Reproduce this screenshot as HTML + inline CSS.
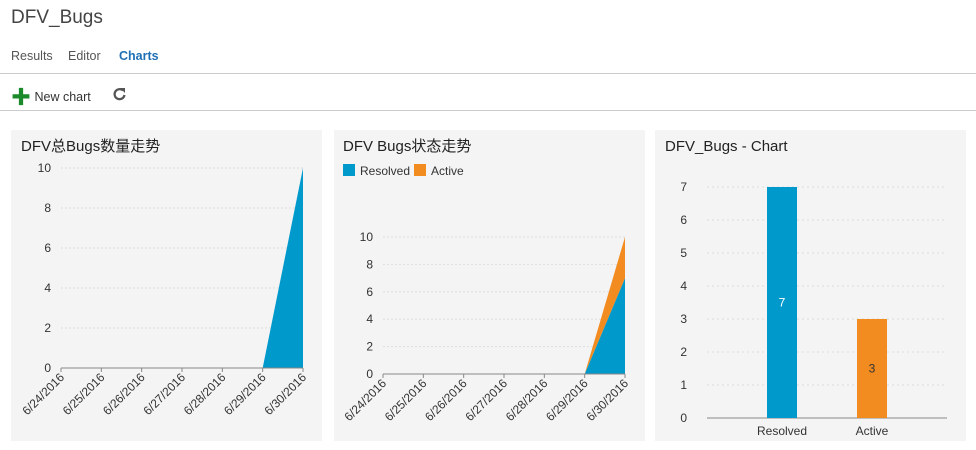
<!DOCTYPE html>
<html><head><meta charset="utf-8"><style>
body{margin:0;width:976px;height:450px;background:#fff;font-family:"Segoe UI","Liberation Sans","Noto Sans CJK SC",sans-serif;overflow:hidden;position:relative}
.a{position:absolute;white-space:nowrap}
</style></head><body>
<div class="a" style="left:11px;top:7px;font-size:19px;color:#444">DFV_Bugs</div>
<div class="a" style="left:11px;top:49px;font-size:12.5px;color:#555">Results</div>
<div class="a" style="left:68px;top:49px;font-size:12.5px;color:#555">Editor</div>
<div class="a" style="left:119px;top:49px;font-size:12.5px;color:#1e6fb4;font-weight:bold">Charts</div>
<div class="a" style="left:0;top:73px;width:976px;height:1px;background:#ccc"></div>
<div class="a" style="left:11px;top:81px;font-size:12.5px;color:#333"><span style="color:#1a8a2a;font-weight:bold;font-size:20px;vertical-align:-3px">✚</span> New chart</div>
<svg class="a" style="left:112px;top:87px" width="15" height="15" viewBox="0 0 15 15"><path d="M11 3.5 A5 5 0 1 0 12.5 8" fill="none" stroke="#555" stroke-width="2.2"/><polygon points="8,1 13,1 13,6" fill="#555"/></svg>
<div class="a" style="left:0;top:110px;width:976px;height:1px;background:#ccc"></div>
<svg id="s" class="a" style="left:0;top:0" width="976" height="450" font-family="Segoe UI, Liberation Sans, Noto Sans CJK SC, sans-serif"></svg>
<script>
const dates=["6/24/2016","6/25/2016","6/26/2016","6/27/2016","6/28/2016","6/29/2016","6/30/2016"];
const totalBugs=[0,0,0,0,0,0,10];
const resolvedSeries=[0,0,0,0,0,0,7];
const activeSeries=[0,0,0,0,0,0,3];
const yTicks1=[0,2,4,6,8,10];
const barCats=["Resolved","Active"];
const barVals=[7,3];
const yTicks3=[0,1,2,3,4,5,6,7];
const S=document.getElementById('s');const NS='http://www.w3.org/2000/svg';
function el(t,a,txt){const e=document.createElementNS(NS,t);for(const k in a)e.setAttribute(k,a[k]);if(txt!=null)e.textContent=txt;S.appendChild(e);return e;}
[[11,'panel-bugs-total'],[334,'panel-bugs-status'],[655,'panel-bar-chart']].forEach(p=>{const r=el('rect',{x:p[0],y:130,width:311,height:311,fill:'#f4f4f4'});});
function title(x,t,n){const e=el('text',{x:x,y:151,'font-size':15,fill:'#222'},t);}
title(21,'DFV总Bugs数量走势','chart1-title');title(343,'DFV Bugs状态走势','chart2-title');title(665,'DFV_Bugs - Chart','chart3-title');
function areaChart(x0,x1,y0,y10,series,colors,names,pfx){
 const xs=i=>x0+(x1-x0)*i/(dates.length-1);const ys=v=>y0-(y0-y10)*v/10;
 yTicks1.forEach(t=>{if(t>0)el('line',{x1:x0,x2:x1,y1:ys(t),y2:ys(t),stroke:'#ddd','stroke-dasharray':'2,2'});
  const e=el('text',{x:x0-10,y:ys(t)+4,'text-anchor':'end','font-size':12,fill:'#333'},t);});
 let base=dates.map(()=>0);
 series.forEach((s,k)=>{const top=s.map((v,i)=>base[i]+v);
  let pts=top.map((v,i)=>xs(i)+','+ys(v)).join(' ')+' '+base.map((v,i)=>xs(i)+','+ys(v)).reverse().join(' ');
  const p=el('polygon',{points:pts,fill:colors[k]});base=top;});
 el('line',{x1:x0,x2:x1,y1:y0,y2:y0,stroke:'#888'});
 dates.forEach((d,i)=>{el('line',{x1:xs(i),x2:xs(i),y1:y0,y2:y0+4,stroke:'#888'});
  const e=el('text',{x:xs(i)+4,y:y0+10,'text-anchor':'end','font-size':12,fill:'#333',transform:`rotate(-45 ${xs(i)+4} ${y0+10})`},d);});
}
areaChart(61,303,368,168,[totalBugs],['#0099cc'],['total-bugs-area'],'chart1');
areaChart(383,625,374,237,[resolvedSeries,activeSeries],['#0099cc','#f28b20'],['resolved-area','active-area'],'chart2');
[[343,'#0099cc','Resolved'],[414,'#f28b20','Active']].forEach(l=>{const g=el('rect',{x:l[0],y:164,width:12,height:12,fill:l[1]});
 const t=el('text',{x:l[0]+17,y:175,'font-size':12,fill:'#333'},l[2]);});
const bx0=707,bx1=947,by0=418,bu=33;const bcol=['#0099cc','#f28b20'];
yTicks3.forEach(t=>{const y=by0-t*bu;if(t>0)el('line',{x1:bx0,x2:bx1,y1:y,y2:y,stroke:'#ddd','stroke-dasharray':'2,3'});
 const e=el('text',{x:687,y:y+4,'text-anchor':'end','font-size':12,fill:'#333'},t);});
el('line',{x1:bx0,x2:bx1,y1:by0,y2:by0,stroke:'#888'});
barCats.forEach((c,i)=>{const cx=782+i*90;const h=barVals[i]*bu;
 const r=el('rect',{x:cx-15,y:by0-h,width:30,height:h,fill:bcol[i]});
 const v=el('text',{x:cx,y:by0-h/2+4,'text-anchor':'middle','font-size':12,fill:i==0?'#fff':'#333'},barVals[i]);
 const l=el('text',{x:cx,y:by0+17,'text-anchor':'middle','font-size':12,fill:'#333'},c);});
</script>
</body></html>
